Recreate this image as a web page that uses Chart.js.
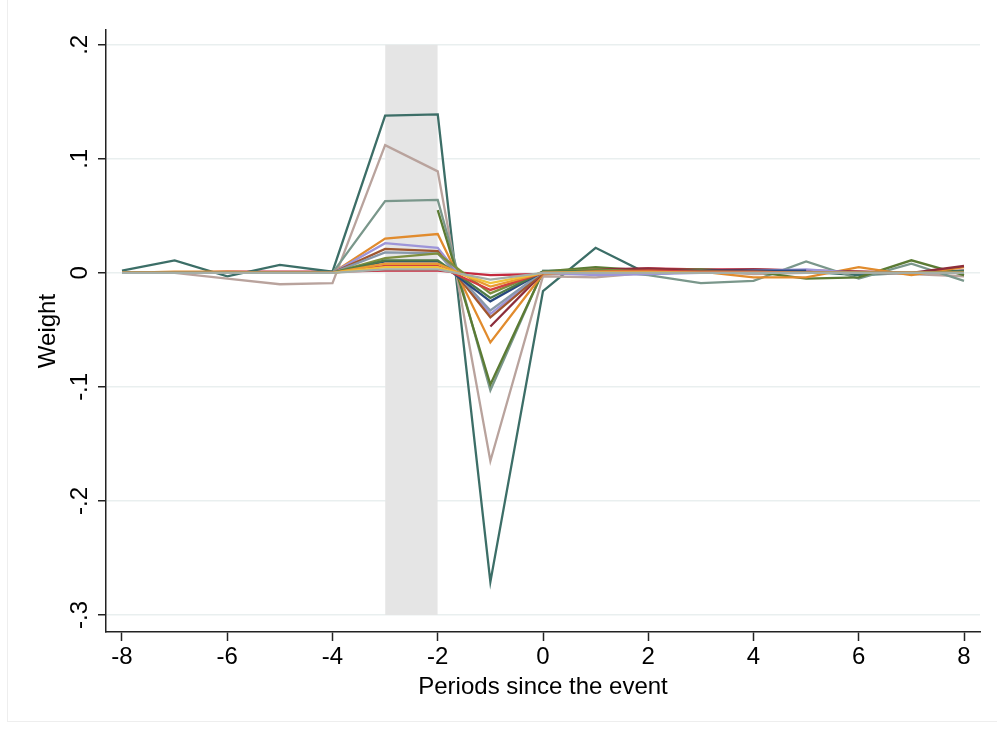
<!DOCTYPE html>
<html>
<head>
<meta charset="utf-8">
<script src="https://cdn.jsdelivr.net/npm/chart.js@4.4.1/dist/chart.umd.min.js"></script>
<style>
  html, body { margin: 0; padding: 0; background: #fff; }
  #wrap { position: relative; width: 997px; height: 729px; }
  #frame { position: absolute; left: 7px; top: 0; width: 990px; height: 722px; border-left: 1px solid #eeeeee; border-bottom: 1px solid #eeeeee; box-sizing: border-box; pointer-events: none; }
</style>
</head>
<body>
<div id="wrap"><canvas id="c" width="997" height="729"></canvas><div id="frame"></div></div>
<script>
// ---- data ----
const periods = [-8, -7, -6, -5, -4, -3, -2, -1, 0, 1, 2, 3, 4, 5, 6, 7, 8];
const xTicks = [-8, -6, -4, -2, 0, 2, 4, 6, 8];
const yTicks = [-0.3, -0.2, -0.1, 0, 0.1, 0.2];
const bandPeriods = [-3, -2];

const sDarkTeal  = [0.002, 0.011, -0.003, 0.007, 0.001, 0.138, 0.139, -0.271, -0.016, 0.022, -0.001, 0.001, 0.002, 0.001, -0.002, 0.000, 0.002];
const sTaupe     = [0.000, 0.000, -0.005, -0.010, -0.009, 0.112, 0.089, -0.165, -0.003, -0.004, 0.000, 0.001, -0.001, 0.000, 0.000, -0.001, -0.003];
const sGrayGreen = [0.000, 0.000, 0.000, 0.000, 0.000, 0.063, 0.064, -0.103, 0.002, 0.002, -0.002, -0.009, -0.007, 0.010, -0.005, 0.008, -0.007];
const sOlive     = [null, null, null, null, null, null, 0.055, -0.098, 0.001, 0.005, 0.002, 0.003, 0.001, -0.005, -0.004, 0.011, -0.002];
const sOrange    = [0.000, 0.001, 0.001, 0.000, 0.000, 0.030, 0.034, -0.061, -0.001, 0.000, 0.001, 0.001, -0.004, -0.004, 0.005, -0.002, 0.005];
const sLavender  = [0.000, 0.000, 0.000, 0.000, 0.000, 0.026, 0.022, -0.036, 0.000, -0.002, -0.001, 0.000, 0.002, 0.003, 0.000, 0.000, 0.000];
const sBrown     = [0.000, 0.000, 0.000, 0.000, 0.000, 0.021, 0.019, -0.039, 0.000, 0.001, 0.002, 0.001, 0.000, 0.000, 0.000, 0.000, 0.000];
const sGrayBlue  = [0.000, 0.000, 0.000, 0.000, 0.000, 0.018, 0.017, -0.033, 0.001, 0.000, 0.000, 0.000, 0.000, 0.000, 0.000, 0.000, 0.000];
const sMaroon    = [null, null, null, null, null, null, null, -0.047, 0.000, 0.003, 0.004, 0.002, 0.003, 0.002, 0.001, 0.000, 0.006];
const sDarkBlue  = [0.000, 0.000, 0.000, 0.000, 0.000, 0.010, 0.010, -0.025, 0.001, 0.001, 0.001, 0.002, 0.002, 0.002, null, null, null];
const sKhaki     = [0.000, 0.000, 0.000, 0.000, 0.000, 0.013, 0.017, -0.018, 0.001, 0.003, 0.001, 0.002, 0.000, 0.000, 0.000, 0.000, 0.000];
const sDarkGreen = [0.000, 0.000, 0.000, 0.000, 0.000, 0.011, 0.011, -0.022, 0.001, 0.002, 0.001, 0.001, 0.001, 0.000, 0.000, 0.000, 0.001];
const sOrange2   = [0.000, 0.000, 0.000, 0.000, 0.000, 0.008, 0.008, -0.012, 0.000, 0.001, 0.001, 0.000, 0.000, 0.000, 0.000, 0.000, 0.000];
const sRed       = [0.000, 0.000, 0.000, 0.000, 0.000, 0.006, 0.006, -0.015, 0.000, 0.001, 0.002, 0.001, 0.001, 0.000, 0.000, 0.000, 0.000];
const sYellow    = [0.000, 0.000, 0.000, 0.000, 0.000, 0.005, 0.005, -0.009, 0.000, 0.000, 0.000, 0.000, 0.000, 0.000, 0.000, 0.000, 0.000];
const sGray      = [0.000, 0.000, 0.000, 0.000, 0.000, 0.003, 0.003, -0.006, 0.000, 0.000, 0.000, 0.000, 0.000, 0.000, 0.000, 0.000, 0.000];
const sCrimson   = [0.000, 0.000, 0.001, 0.001, 0.001, 0.002, 0.002, -0.002, -0.001, 0.002, 0.004, 0.003, 0.003, 0.002, 0.001, 0.000, 0.002];

const seriesList = [
  [sGray, '#a4aea8'],
  [sYellow, '#f0c23a'],
  [sOrange2, '#e99a32'],
  [sRed, '#d24040'],
  [sDarkGreen, '#4d7a48'],
  [sKhaki, '#7d8f3e'],
  [sDarkBlue, '#27477f'],
  [sGrayBlue, '#8898aa'],
  [sBrown, '#a0562f'],
  [sLavender, '#9d95d9'],
  [sMaroon, '#8c2d3b'],
  [sOrange, '#e18b2d'],
  [sOlive, '#5b7b34'],
  [sGrayGreen, '#7a978b'],
  [sTaupe, '#b9a39d'],
  [sDarkTeal, '#3c6e67'],
  [sCrimson, '#c42a3e']
];

// ---- chart ----
Chart.defaults.font.family = "'Liberation Sans', Arial, sans-serif";
Chart.defaults.color = '#000';

const datasets = seriesList.map(([vals, col]) => ({
  data: periods.map((p, k) => ({ x: p, y: vals[k] })).filter(d => d.y !== null),
  borderColor: col,
  borderWidth: 2.3,
  pointRadius: 0,
  tension: 0,
  fill: false,
  order: 1
}));

datasets.push({
  data: bandPeriods.map(p => ({ x: p, y: yTicks[yTicks.length - 1] })),
  borderWidth: 0,
  borderColor: 'rgba(0,0,0,0)',
  backgroundColor: '#e5e5e5',
  pointRadius: 0,
  fill: { value: yTicks[0] },
  order: 100
});

function fmtY(v) {
  const r = Math.round(v * 10) / 10;
  if (r === 0) return '0';
  return String(r).replace('0.', '.');
}

new Chart(document.getElementById('c'), {
  type: 'line',
  data: { datasets },
  options: {
    responsive: false,
    animation: false,
    layout: { padding: { top: 30, right: 17, left: 0, bottom: 0 } },
    plugins: { legend: { display: false }, tooltip: { enabled: false } },
    scales: {
      x: {
        type: 'linear',
        min: -8.304,
        max: 8.304,
        afterBuildTicks: s => { s.ticks = xTicks.map(v => ({ value: v })); },
        afterFit: s => { s.height = 97; },
        grid: { drawOnChartArea: false, tickLength: 9, tickColor: '#222', tickWidth: 1.5 },
        border: { color: '#222', width: 1.5 },
        ticks: { font: { size: 24 }, padding: 2, maxRotation: 0, minRotation: 0, color: '#000' },
        title: { display: true, text: 'Periods since the event', font: { size: 24 }, padding: { top: 0, bottom: 27 }, color: '#000' }
      },
      y: {
        type: 'linear',
        min: -0.315,
        max: 0.213,
        afterBuildTicks: s => { s.ticks = yTicks.map(v => ({ value: v })); },
        afterFit: s => { s.width = 106; },
        grid: { color: '#e9efef', lineWidth: 1.5, tickLength: 8, tickColor: '#222', tickWidth: 1.5 },
        border: { color: '#222', width: 1.5 },
        ticks: { font: { size: 24 }, padding: 4, minRotation: 90, maxRotation: 90, crossAlign: 'center', callback: v => fmtY(v), color: '#000' },
        title: { display: true, text: 'Weight', font: { size: 24 }, padding: { top: 34, bottom: 0 }, color: '#000' }
      }
    }
  }
});
</script>
</body>
</html>
